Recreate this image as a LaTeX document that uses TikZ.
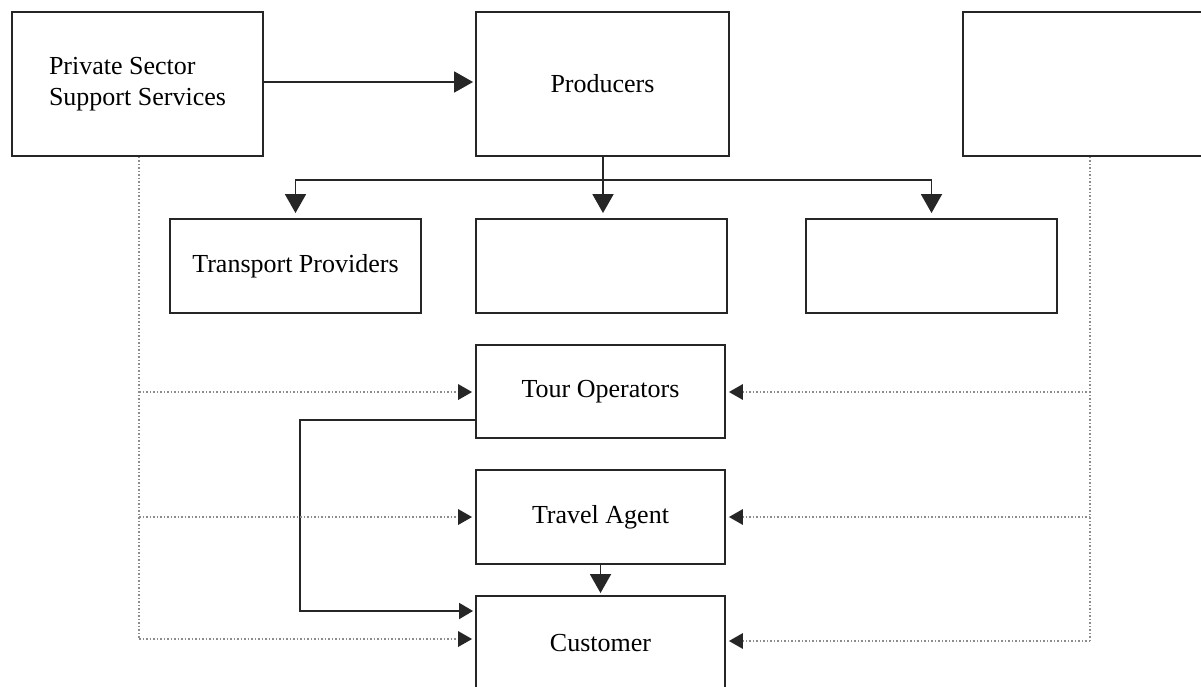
\documentclass[tikz,border=0pt]{standalone}
\usepackage{fontspec}
\setmainfont{Liberation Serif}
\usetikzlibrary{arrows.meta,positioning}
\begin{document}
\begin{tikzpicture}[x=1pt,y=-1pt,
  box/.style={draw=black!85,line width=1.9pt,fill=white,inner sep=0pt,
    font=\fontsize{26}{31}\selectfont},
  solidline/.style={draw=black!85,line width=1.9pt},
  bigarr/.style={solidline,-{Triangle[width=21pt,length=19pt]}},
  smallarr/.style={solidline,-{Triangle[width=16pt,length=14pt]}},
  dotline/.style={draw=black!45,line width=1.5pt,dotted},
  dotarr/.style={dotline,-{Triangle[width=16pt,length=14pt,color=black!85,line width=0pt]},shorten >=3pt}]
\useasboundingbox (0,0) rectangle (1201,687);
% boxes
\node[box,minimum width=251pt,minimum height=144pt,align=left] (priv) at (137.5,84) {Private Sector\\Support Services};
\node[box,minimum width=253pt,minimum height=144pt] (prod) at (602.5,84) {Producers};
\node[box,minimum width=254pt,minimum height=144pt] (rtop) at (1090,84) {};
\node[box,minimum width=251pt,minimum height=94pt] (tp) at (295.5,266) {Transport Providers};
\node[box,minimum width=251pt,minimum height=94pt] (mid) at (601.5,266) {};
\node[box,minimum width=251pt,minimum height=94pt] (rmid) at (931.5,266) {};
\node[box,minimum width=249pt,minimum height=93pt] (tour) at (600.5,391.5) {Tour Operators};
\node[box,minimum width=249pt,minimum height=94pt] (travel) at (600.5,517) {Travel Agent};
\node[box,minimum width=249pt,minimum height=94pt] (cust) at (600.5,643) {Customer};
% solid connectors
\draw[bigarr,shorten >=2pt] (priv.east |- 0,82) -- (prod.west |- 0,82);
\coordinate (bar) at (603,180);
\draw[solidline] (prod.south -| bar) -- (bar);
\draw[bigarr,shorten >=5pt] (bar) -| (tp.north);
\draw[bigarr,shorten >=5pt] (bar) -- (bar |- mid.north);
\draw[bigarr,shorten >=5pt] (bar) -| (rmid.north);
\draw[bigarr,shorten >=2pt] (travel.south) -- (cust.north);
\coordinate (tl) at (300,420);
\coordinate (cl) at (300,611);
\draw[smallarr,shorten >=2pt] (tour.west |- tl) -- (tl) -- (cl) -- (cust.west |- cl);
% dotted connectors left
\coordinate (lb) at (139,639);
\draw[dotline] (priv.south -| lb) -- (lb);
\draw[dotarr] (139,392) -- (tour.west |- 0,392);
\draw[dotarr] (139,517) -- (travel.west |- 0,517);
\draw[dotarr] (lb) -- (cust.west |- lb);
% dotted connectors right
\coordinate (rb) at (1090,641);
\draw[dotline] (rtop.south) -- (rb);
\draw[dotarr] (1090,392) -- (tour.east |- 0,392);
\draw[dotarr] (1090,517) -- (travel.east |- 0,517);
\draw[dotarr] (rb) -- (cust.east |- rb);
\end{tikzpicture}
\end{document}
